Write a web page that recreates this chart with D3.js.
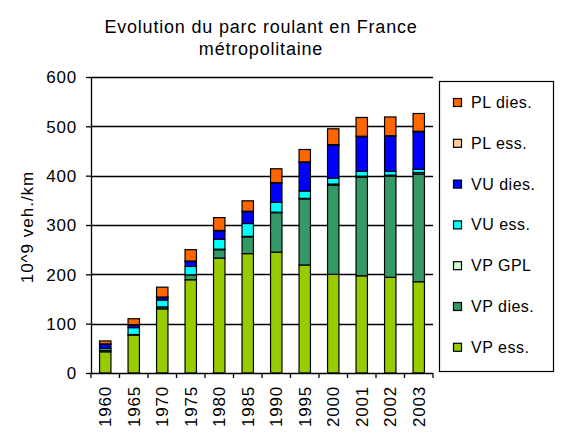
<!DOCTYPE html>
<html>
<head>
<meta charset="utf-8">
<script src="https://cdn.jsdelivr.net/npm/d3@7"></script>
<style>
  body { margin: 0; background: #fff; }
  text { font-family: "Liberation Sans", Arial, sans-serif; fill: #000; }
</style>
</head>
<body>
<div id="chart"></div>
<script>
// Years on the x axis
const years = ["1960", "1965", "1970", "1975", "1980", "1985", "1990", "1995", "2000", "2001", "2002", "2003"];

// Traffic per category (10^9 veh./km)
const vpEss  = [43, 77, 130, 189, 233, 242, 245, 219, 200, 197, 194, 185];
const vpDies = [3, 1, 4, 10, 17, 34, 80, 134, 181, 200, 205, 218];
const vpGpl  = [0, 0, 0, 0, 1, 1, 1, 1, 2, 2, 2, 3];
const vuEss  = [4, 14, 14, 17, 20, 26, 20, 15, 12, 10, 8, 7];
const vuDies = [8, 5, 5, 10, 17, 24, 39, 58, 67, 70, 71, 76];
const plEss  = [1, 1, 1, 1, 1, 1, 1, 1, 1, 1, 1, 1];
const plDies = [6, 12, 20, 23, 26, 21, 28, 25, 32, 38, 38, 36];

const seriesNames = ["VP ess.", "VP dies.", "VP GPL", "VU ess.", "VU dies.", "PL ess.", "PL dies."];
const seriesValues = [vpEss, vpDies, vpGpl, vuEss, vuDies, plEss, plDies];
const seriesColors = ["#99cc00", "#339966", "#ccffcc", "#00ffff", "#0000ff", "#ffcc99", "#ff6600"];

const yTicks = [0, 100, 200, 300, 400, 500, 600];

const width = 565, height = 440;
const plot = { left: 91, right: 433, top: 77, bottom: 373 };

const svg = d3.select("#chart").append("svg")
  .attr("width", width)
  .attr("height", height);

// Build rows for the stack
const rows = years.map((yr, i) => {
  const row = { year: yr };
  seriesNames.forEach((name, s) => { row[name] = seriesValues[s][i]; });
  return row;
});
const stacked = d3.stack().keys(seriesNames)(rows);

const x = d3.scaleBand()
  .domain(years)
  .range([plot.left, plot.right])
  .paddingInner(0.6)
  .paddingOuter(0.3);

const y = d3.scaleLinear()
  .domain([0, 600])
  .range([plot.bottom, plot.top]);

// Title
const title = svg.append("g").style("font-size", "18px").attr("text-anchor", "middle");
title.append("text").attr("x", 261).attr("y", 33).style("letter-spacing", "0.8px")
  .text("Evolution du parc roulant en France");
title.append("text").attr("x", 261).attr("y", 55).style("letter-spacing", "0.8px")
  .text("métropolitaine");

// Horizontal gridlines
svg.append("g")
  .selectAll("line")
  .data(yTicks.filter(t => t > 0))
  .join("line")
  .attr("x1", plot.left).attr("x2", plot.right)
  .attr("y1", d => Math.round(y(d)) + 0.5).attr("y2", d => Math.round(y(d)) + 0.5)
  .attr("stroke", "#000").attr("stroke-width", 1.3);

// Stacked bars
svg.append("g")
  .selectAll("g")
  .data(stacked)
  .join("g")
  .attr("fill", (d, i) => seriesColors[i])
  .selectAll("rect")
  .data(d => d.filter(p => p[1] - p[0] > 0))
  .join("rect")
  .attr("x", d => x(d.data.year))
  .attr("y", d => y(d[1]))
  .attr("width", x.bandwidth())
  .attr("height", d => y(d[0]) - y(d[1]))
  .attr("stroke", "#000")
  .attr("stroke-width", 1.2);

// Y axis
const yAxis = svg.append("g")
  .attr("transform", `translate(${plot.left},0)`)
  .call(d3.axisLeft(y).tickValues(yTicks).tickSize(5).tickSizeOuter(0).tickPadding(9));
yAxis.select(".domain").attr("stroke", "#000").attr("stroke-width", 1.3);
yAxis.selectAll(".tick line").attr("stroke", "#000").attr("stroke-width", 1.3);
yAxis.selectAll(".tick text")
  .style("font-family", "'Liberation Sans', Arial, sans-serif")
  .style("font-size", "17px")
  .style("letter-spacing", "0.8px")
  .attr("dy", "0.35em");

// X axis line and boundary ticks
const xAxis = svg.append("g");
xAxis.append("line")
  .attr("x1", plot.left).attr("x2", plot.right)
  .attr("y1", plot.bottom + 0.5).attr("y2", plot.bottom + 0.5)
  .attr("stroke", "#000").attr("stroke-width", 1.3);
xAxis.selectAll(".bound")
  .data(d3.range(years.length + 1))
  .join("line")
  .attr("class", "bound")
  .attr("x1", i => plot.left + i * x.step()).attr("x2", i => plot.left + i * x.step())
  .attr("y1", plot.bottom).attr("y2", plot.bottom + 5)
  .attr("stroke", "#000").attr("stroke-width", 1.3);

// Rotated year labels
xAxis.selectAll(".year")
  .data(years)
  .join("text")
  .attr("class", "year")
  .attr("transform", d => `translate(${x(d) + x.bandwidth() / 2 + 6},${plot.bottom + 13}) rotate(-90)`)
  .attr("text-anchor", "end")
  .style("font-size", "17px")
  .style("letter-spacing", "0.8px")
  .text(d => d);

// Y axis title
svg.append("text")
  .attr("transform", "translate(33,227) rotate(-90)")
  .attr("text-anchor", "middle")
  .style("font-size", "17px")
  .style("letter-spacing", "1px")
  .text("10^9  veh./km");

// Legend (top entry is the last series)
const legend = svg.append("g");
legend.append("rect")
  .attr("x", 439.5).attr("y", 81.5)
  .attr("width", 114).attr("height", 290)
  .attr("fill", "#fff")
  .attr("stroke", "#000").attr("stroke-width", 1.2);

const legendItems = legend.selectAll(".item")
  .data(seriesNames.map((n, i) => ({ name: n, color: seriesColors[i] })).reverse())
  .join("g")
  .attr("class", "item")
  .attr("transform", (d, i) => `translate(453,${102 + i * 40.8})`);

legendItems.append("rect")
  .attr("x", 0.5).attr("y", -3.5)
  .attr("width", 8).attr("height", 8)
  .attr("fill", d => d.color)
  .attr("stroke", "#000").attr("stroke-width", 1.2);

legendItems.append("text")
  .attr("x", 18).attr("y", 6)
  .style("font-size", "16px")
  .style("letter-spacing", "0.5px")
  .text(d => d.name);
</script>
</body>
</html>
